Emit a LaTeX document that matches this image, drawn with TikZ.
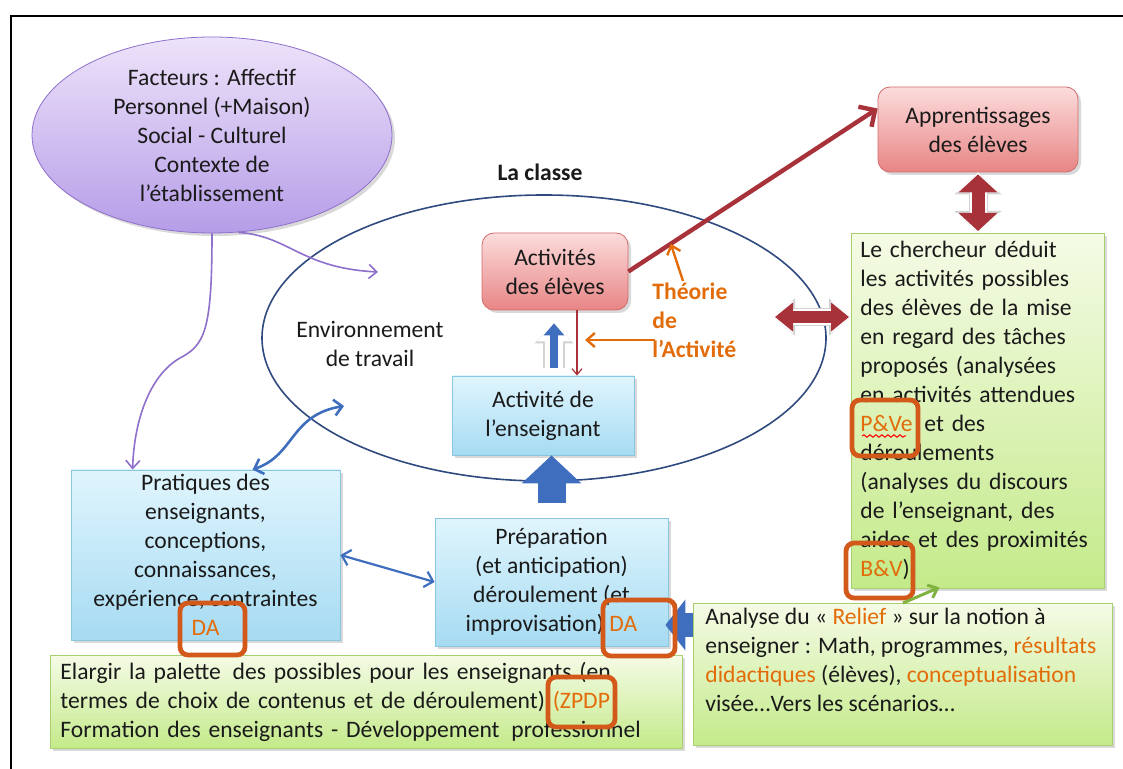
\documentclass[tikz,border=0pt]{standalone}
\usepackage{fontspec}
\setmainfont{Carlito}
\usetikzlibrary{arrows.meta,shapes.geometric,shadows,decorations.pathmorphing}

\definecolor{ink}{HTML}{1A1A1A}
\definecolor{orangetxt}{HTML}{E36C0A}
\definecolor{tagline}{HTML}{D2591A}
\definecolor{darkred}{HTML}{A8323A}
\definecolor{arrowblue}{HTML}{3F6EBF}
\definecolor{ringblue}{HTML}{2E4A7E}
\definecolor{lilac}{HTML}{8E6FCB}
\definecolor{lilactop}{HTML}{EDE3FA}
\definecolor{lilacbot}{HTML}{B69DE8}
\definecolor{redtop}{HTML}{FCDCDC}
\definecolor{redbot}{HTML}{E88585}
\definecolor{rededge}{HTML}{D26B6B}
\definecolor{cyantop}{HTML}{E0F5FD}
\definecolor{cyanbot}{HTML}{A6DBF2}
\definecolor{cyanedge}{HTML}{88C6E2}
\definecolor{greentop}{HTML}{F5FBE6}
\definecolor{greenbot}{HTML}{C4EA8A}
\definecolor{greenedge}{HTML}{A8CF6E}
\definecolor{greenarrow}{HTML}{7FB23F}

\tikzset{
  boxshadow/.style={drop shadow={shadow xshift=1.5pt,shadow yshift=-1.5pt,opacity=.3}},
  redbox/.style={draw=rededge,top color=redtop,bottom color=redbot,rounded corners=6pt,align=center,inner sep=0pt,boxshadow},
  bluebox/.style={draw=cyanedge,top color=cyantop,bottom color=cyanbot,align=center,inner sep=0pt,boxshadow},
  greenbox/.style={draw=greenedge,top color=greentop,bottom color=greenbot,boxshadow},
  tagbox/.style={draw=tagline,line width=2.4pt,rounded corners=4pt,inner sep=0pt},
  barb/.style={-{Straight Barb[length=4pt,width=7pt]}}
}

\begin{document}
\begin{tikzpicture}[x=0.5pt,y=-0.5pt,font=\fontsize{11.8}{14.5}\selectfont,text=ink]
\useasboundingbox (0,0) rectangle (1123,769);
\draw[line width=1pt] (11,769) -- (11,16) -- (1123,16);

\node[ellipse,draw=lilac,top color=lilactop,bottom color=lilacbot,minimum width=180pt,minimum height=98pt,inner sep=0pt,align=center,boxshadow] (fac) at (212,135)
  {Facteurs : Affectif\\Personnel (+Maison)\\Social - Culturel\\Contexte de\\l’établissement};

\node[font=\fontsize{11.8}{14.5}\selectfont\bfseries] (laclasse) at (540,172) {La classe};
\node[ellipse,draw=ringblue,line width=0.8pt,minimum width=282pt,minimum height=143pt,inner sep=0pt] (classe) at (544,338) {};
\node[align=center] (env) at (370,344) {Environnement\\de travail};

\coordinate (envin) at (378,272);
\coordinate (envpt) at (344,406);
\coordinate (redx) at (577,0);
\coordinate (tstart) at (683,281);
\coordinate (tleft) at (655,340);
\coordinate (tleftend) at (585,340);
\coordinate (rl) at (773,317);
\coordinate (aw) at (720,625);

\node[redbox,minimum width=73pt,minimum height=38.5pt] (act) at (555,271.5) {Activités\\des élèves};
\node[redbox,minimum width=100pt,minimum height=42.5pt] (app) at (978,129.5) {Apprentissages\\des élèves};
\node[bluebox,minimum width=91pt,minimum height=39.5pt] (ens) at (543,415.5) {Activité de\\l’enseignant};
\node[bluebox,minimum width=134.5pt,minimum height=85pt] (prat) at (205.5,555)
  {Pratiques des\\enseignants,\\conceptions,\\connaissances,\\expérience, contraintes\\\textcolor{orangetxt}{DA}};
\node[bluebox,minimum width=116.5pt,minimum height=64pt] (prep) at (551.5,582)
  {Préparation\\(et anticipation)\\déroulement (et\\improvisation) \textcolor{orangetxt}{DA}};

\node[font=\fontsize{11.8}{14.5}\selectfont\bfseries,text=orangetxt,align=left,anchor=north west,inner sep=0pt] (theo) at (652,283) {Théorie\\de\\l’Activité};

\draw[lilac,line width=0.8pt,barb] (fac.south) .. controls (212,330) and (205,345) .. (180,358) .. controls (150,375) and (134,420) .. ([xshift=31pt]prat.north west);
\draw[lilac,line width=0.8pt,barb] (fac.-75) .. controls (290,236) and (300,268) .. (envin);
\draw[arrowblue,line width=1.3pt,{Straight Barb[length=4pt,width=8pt]}-{Straight Barb[length=4pt,width=8pt]}] ([xshift=23.5pt]prat.north) .. controls (295,455) and (290,415) .. (envpt);
\draw[arrowblue,line width=1.1pt,{Straight Barb[length=4pt,width=8pt]}-{Straight Barb[length=4pt,width=8pt]}] (prat.east) -- (prep.west);

\draw[darkred,line width=2.2pt,-{Straight Barb[length=6pt,width=12pt]}] (act.east) -- coordinate[pos=0.17] (hit) ([yshift=10.5pt]app.west);
\draw[orangetxt,line width=1.2pt,barb] (tstart) -- (hit);
\draw[orangetxt,line width=1.2pt,barb] (tleft) -- (tleftend);
\draw[darkred,line width=0.6pt,-{Straight Barb[length=3pt,width=5pt]}] (act.south -| redx) -- (ens.north -| redx);

\draw[gray!35,line width=11pt,-{Triangle[length=10pt,width=19pt]}] ([xshift=5.5pt,yshift=4pt]ens.north) -- ([xshift=-0.5pt,yshift=-6.5pt]act.south);
\draw[white,line width=9pt,-{Triangle[length=9pt,width=17pt]}] ([xshift=5.5pt,yshift=4pt]ens.north) -- ([xshift=-0.5pt,yshift=-6.5pt]act.south);
\draw[arrowblue,line width=4pt,-{Triangle[length=6pt,width=10pt]}] ([xshift=5.5pt,yshift=4pt]ens.north) -- ([xshift=-0.5pt,yshift=-6.5pt]act.south);

\draw[arrowblue,line width=14pt,-{Triangle[length=14pt,width=29pt]}] ([yshift=7.5pt]prep.north) -- (prep.north |- ens.south);

\node[greenbox,anchor=north west,text width=117.5pt,inner xsep=4.5pt,minimum height=177.5pt,align=left] (g1) at (851,233)
  {Le chercheur déduit\\les activités possibles\\des élèves de la mise\\en regard des tâches\\proposés (analysées\\en activités attendues\\\textcolor{orangetxt}{P\&Ve}\enspace et des\\déroulements\\(analyses du discours\\de l’enseignant, des\\aides et des proximités\\\textcolor{orangetxt}{B\&V})};

\draw[gray!35,line width=9pt,{Triangle[length=11pt,width=18pt]}-{Triangle[length=11pt,width=18pt]}] (rl) -- (rl -| g1.west);
\draw[white,line width=8pt,{Triangle[length=10pt,width=16pt]}-{Triangle[length=10pt,width=16pt]}] (rl) -- (rl -| g1.west);
\draw[darkred,line width=6pt,{Triangle[length=9pt,width=14pt]}-{Triangle[length=9pt,width=14pt]}] ([xshift=1pt]rl) -- ([xshift=-1pt]rl -| g1.west);
\draw[gray!35,line width=9.5pt,{Triangle[length=11pt,width=23pt]}-{Triangle[length=11pt,width=23pt]}] (app.south) -- (app.south |- g1.north);
\draw[white,line width=8.5pt,{Triangle[length=10pt,width=21pt]}-{Triangle[length=10pt,width=21pt]}] (app.south) -- (app.south |- g1.north);
\draw[darkred,line width=6.5pt,{Triangle[length=9pt,width=19pt]}-{Triangle[length=9pt,width=19pt]}] ([yshift=-1pt]app.south) -- ([yshift=1pt]app.south |- g1.north);

\draw[arrowblue,line width=12pt,-{Triangle[length=10pt,width=25pt]}] (aw) -- ([xshift=-1.5pt]aw -| prep.east);

\node[greenbox,anchor=north west,minimum width=209.5pt,minimum height=71pt] (ana) at (693,603) {};
\node[anchor=north west,align=left,inner sep=0pt] (anatxt) at (705,608)
  {Analyse du « \textcolor{orangetxt}{Relief} » sur la notion à\\enseigner : Math, programmes, \textcolor{orangetxt}{résultats}\\\textcolor{orangetxt}{didactiques} (élèves), \textcolor{orangetxt}{conceptualisation}\\visée…Vers les scénarios…};
\node[greenbox,anchor=north west,text width=306pt,inner xsep=5pt,minimum height=45pt,align=left] (ela) at (50,655)
  {Elargir la palette\enspace des possibles pour les enseignants (en\\termes de choix de contenus et de déroulement) \textcolor{orangetxt}{(ZPDP}\\Formation des enseignants - Développement\enspace professionnel};

\node[tagbox,minimum width=32.5pt,minimum height=26pt] (tagDAa) at (212.5,629) {};
\node[tagbox,minimum width=36pt,minimum height=28pt] (tagDAb) at (639,628) {};
\node[tagbox,minimum width=33pt,minimum height=28pt] (tagPV) at (885,428) {};
\node[tagbox,minimum width=33.5pt,minimum height=27.5pt] (tagBV) at (879.5,570.5) {};
\node[tagbox,minimum width=33.5pt,minimum height=25pt] (tagZP) at (581.5,702) {};
\draw[red,line width=0.5pt,decorate,decoration={snake,amplitude=0.6pt,segment length=3pt}] ([xshift=-11.5pt,yshift=-4pt]tagPV.center) -- ([xshift=10.5pt,yshift=-4pt]tagPV.center);

\draw[greenarrow,line width=1.5pt,barb] ([xshift=105pt]ana.north west) -- ([xshift=12pt,yshift=6.5pt]tagBV.south east);
\end{tikzpicture}
\end{document}
